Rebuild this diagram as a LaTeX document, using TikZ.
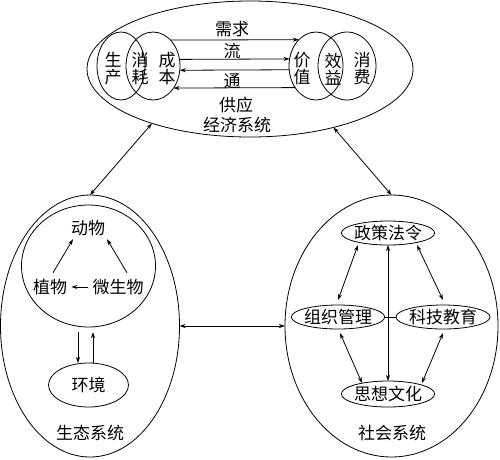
\documentclass[tikz,border=0pt]{standalone}
\usepackage{fontspec}
\newfontfamily\cjk{Noto Sans CJK SC}
\usetikzlibrary{shapes.geometric,arrows.meta}
\begin{document}
\begin{tikzpicture}[x=1pt,y=-1pt, line width=0.8pt,
  every node/.style={font=\cjk\fontsize{17}{17}\selectfont},
  oval/.style={draw, ellipse, inner sep=0pt, outer sep=0pt},
  toval/.style={oval, inner xsep=-1pt, inner ysep=-0.5pt},
  lbl/.style={inner sep=1pt, align=center},
  >={Stealth[length=6pt,width=4pt]}]
\useasboundingbox (0,0) rectangle (500,459);
% economic system
\node[oval, minimum width=326pt, minimum height=136pt] (econ) at (250,69) {};
\node[oval, minimum width=48pt, minimum height=68pt] (A) at (121,66) {};
\node[oval, minimum width=54pt, minimum height=68pt] (B) at (153,66) {};
\node[oval, minimum width=54pt, minimum height=68pt] (C) at (316,66) {};
\node[oval, minimum width=58pt, minimum height=68pt] (D) at (347,66) {};
\node[lbl] (t1) at (113,69) {生\\产};
\node[lbl] (t2) at (140,69) {消\\耗};
\node[lbl] (t3) at (167,69) {成\\本};
\node[lbl] (t4) at (302,69) {价\\值};
\node[lbl] (t5) at (333,69) {效\\益};
\node[lbl] (t6) at (362,69) {消\\费};
\node[lbl] (l1) at (232,29) {需求};
\node[lbl] (l2) at (232,51) {流};
\node[lbl] (l3) at (232,81) {通};
\node[lbl] (l4) at (236,105) {供应};
\node[lbl] (l5) at (237,125) {经济系统};
\draw[->] (B.56.2) -- (C.123.8);
\draw[->] (B.14.9) -- (C.165.1);
\draw[->] (C.188.6) -- (B.351.4);
\draw[->] (C.226.9) -- (B.313.1);
% ecological system
\node[oval, minimum width=179pt, minimum height=262pt] (ecol) at (90,326) {};
\node[oval, minimum width=134pt, minimum height=122pt] (bio) at (88.5,266) {};
\node[oval, minimum width=80pt, minimum height=44pt] (env) at (88.5,385) {环境};
\node[lbl] (dw) at (88,228) {动物};
\node[lbl] (zw) at (50,287) {植物};
\node[lbl] (wsw) at (118,287) {微生物};
\node[lbl] (ecolt) at (90,433) {生态系统};
\draw[->] ([xshift=3pt,yshift=5pt]zw.north) -- ([xshift=-15pt,yshift=-2pt]dw.south);
\draw[->] ([xshift=9pt,yshift=5pt]wsw.north) -- ([xshift=19pt,yshift=-2pt]dw.south);
\draw[->,shorten <=3pt,shorten >=3pt] (wsw.west) -- (zw.east);
\draw[->,shorten <=5pt] ([xshift=-10.5pt]bio.south) -- ([xshift=-10.5pt]env.north);
\draw[->,shorten >=5pt] ([xshift=4.5pt]env.north) -- ([xshift=4.5pt]bio.south);
% social system
\node[oval, minimum width=213pt, minimum height=262pt] (soc) at (391.5,326) {};
\node[toval, minimum width=93pt, minimum height=24pt] (zc) at (388,233) {政策法令};
\node[toval, minimum width=90pt, minimum height=24pt] (zz) at (338,317) {组织管理};
\node[toval, minimum width=94pt, minimum height=24pt] (kj) at (443,317) {科技教育};
\node[toval, minimum width=93pt, minimum height=26pt] (sx) at (388,394) {思想文化};
\node[lbl] (soct) at (392,433) {社会系统};
\draw[<->] (zc.south) -- (sx.north);
\draw (zz.east) -- (kj.west);
\draw[<->] ([xshift=-30pt]zc.south) -- ([yshift=5pt]zz.north);
\draw[<->] ([xshift=29pt]zc.south) -- ([yshift=5pt]kj.north);
\draw[<->] ([xshift=2pt,yshift=-4pt]zz.south) -- ([xshift=-26pt,yshift=-2pt]sx.north);
\draw[<->] ([yshift=-4pt]kj.south) -- ([xshift=34pt,yshift=-2pt]sx.north);
% links between systems
\draw[<->] (econ.209) -- (ecol.north);
\draw[<->] (econ.325) -- (soc.north);
\draw[<->] (ecol.east) -- (soc.west);
\end{tikzpicture}
\end{document}
